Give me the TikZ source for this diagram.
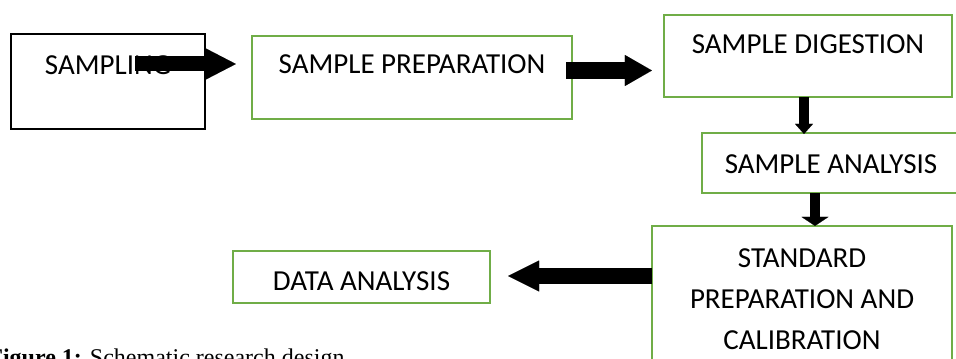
\documentclass[tikz,border=0pt]{standalone}
\usepackage{fontspec}
\setmainfont{Carlito}
\newfontfamily\capfont{Liberation Serif}
\usetikzlibrary{arrows.meta}
\definecolor{boxgreen}{RGB}{112,173,71}
\tikzset{
  gbox/.style={draw=boxgreen, line width=1.1pt, rectangle, inner sep=0pt},
  kbox/.style={draw=black, line width=1.2pt, rectangle, inner sep=0pt},
  boxtext/.style={font=\fontsize{14.5}{20.5}\selectfont, text=black},
  blockarrow/.style n args={3}{draw=black, line width=#1, line cap=butt,
     -{Triangle[length=#2, width=#3, line width=0.01pt]}}
}
\begin{document}
\begin{tikzpicture}[x=0.5pt,y=-0.5pt]
\useasboundingbox (0,0) rectangle (956,358);
\clip (0,0) rectangle (956,358);
% boxes
\node[kbox, minimum width=97pt, minimum height=47.5pt, boxtext,
      label={[boxtext,anchor=center,yshift=-16pt]north:SAMPLING}] (samp) at (108,81.5) {};
\node[gbox, minimum width=160pt, minimum height=41.5pt, boxtext,
      label={[boxtext,anchor=center,yshift=-14.5pt]north:SAMPLE PREPARATION}] (prep) at (412,77.5) {};
\node[gbox, minimum width=144pt, minimum height=41pt, boxtext,
      label={[boxtext,anchor=center,yshift=-15pt]north:SAMPLE DIGESTION}] (dig) at (808,56) {};
\node[gbox, minimum width=129pt, minimum height=30pt, boxtext,
      label={[boxtext,anchor=center,yshift=-16pt]north:SAMPLE ANALYSIS}] (ana) at (831,163) {};
\node[gbox, minimum width=150pt, minimum height=73pt, boxtext, align=center] (std) at (802,299)
      {STANDARD\\PREPARATION AND\\CALIBRATION};
\node[gbox, minimum width=128.5pt, minimum height=26pt, boxtext,
      label={[boxtext,anchor=center,yshift=-15.5pt]north:DATA ANALYSIS}] (data) at (361.5,277) {};
% arrow start points
\coordinate (a1) at (135,64);
\coordinate (a2) at (566,70.5);
\coordinate (a3) at (804,97);
\coordinate (a4) at (815,193);
\coordinate (a5) at (652,276);
% arrows
\draw[blockarrow={7.5pt}{15pt}{15.5pt}, shorten >=7.5pt] (a1) -- (a1 -| prep.west);
\draw[blockarrow={8.5pt}{13.5pt}{15.5pt}, shorten >=5.5pt] (a2) -- (a2 -| dig.west);
\draw[blockarrow={5pt}{5pt}{9pt}, shorten >=-1pt] (a3) -- (a3 |- ana.north);
\draw[blockarrow={5pt}{4.5pt}{13.5pt}, shorten >=-0.5pt] (a4) -- (a4 |- std.north);
\draw[blockarrow={8pt}{15.5pt}{15.5pt}, shorten >=8.5pt] (a5) -- (a5 -| data.east);
% caption
\node[anchor=base west, inner sep=0pt, font=\capfont\fontsize{12}{14}\selectfont] (cap) at (-12,365)
  {\textbf{Figure 1:} Schematic research design};
\end{tikzpicture}
\end{document}
